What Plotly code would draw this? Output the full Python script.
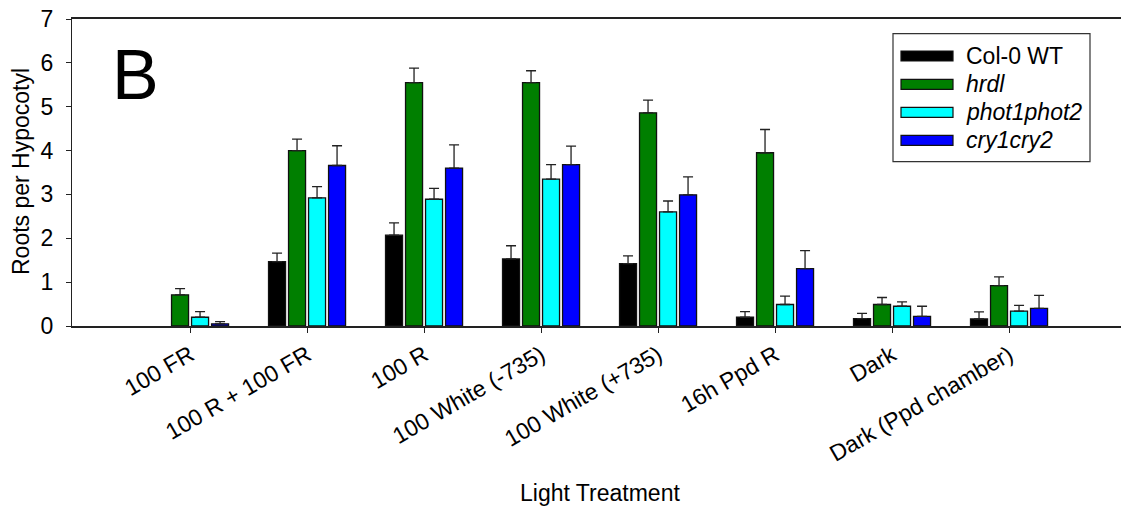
import plotly.graph_objects as go

categories = ["100 FR", "100 R + 100 FR", "100 R", "100 White (-735)",
              "100 White (+735)", "16h Ppd R", "Dark", "Dark (Ppd chamber)"]
series_names = ["Col-0 WT", "hrdl", "phot1phot2", "cry1cry2"]
series_italic = [False, True, True, True]
colors = ["#000000", "#007F00", "#00FFFF", "#0000FF"]

col0 = [None, 1.47, 2.07, 1.53, 1.42, 0.20, 0.17, 0.16]
hrdl = [0.71, 4.00, 5.55, 5.55, 4.86, 3.95, 0.49, 0.92]
phot = [0.20, 2.92, 2.89, 3.35, 2.60, 0.49, 0.45, 0.34]
cry = [0.05, 3.66, 3.60, 3.68, 2.99, 1.31, 0.22, 0.40]

col0_err = [None, 0.19, 0.28, 0.30, 0.18, 0.13, 0.12, 0.16]
hrdl_err = [0.14, 0.26, 0.33, 0.27, 0.29, 0.53, 0.16, 0.20]
phot_err = [0.13, 0.26, 0.25, 0.33, 0.25, 0.19, 0.10, 0.13]
cry_err = [0.05, 0.45, 0.53, 0.42, 0.41, 0.41, 0.23, 0.30]

values = [col0, hrdl, phot, cry]
errors = [col0_err, hrdl_err, phot_err, cry_err]

FONT = "Liberation Sans, Arial, sans-serif"
FS = 23
W, H = 1121, 512
L, R, T, B = 72, 0, 19, 186
PW, PH = W - L - R, H - T - B


def px(x):
    return (x - L) / PW


def py(y):
    return (H - B - y) / PH


fig = go.Figure()
for name, vals, errs, c in zip(series_names, values, errors, colors):
    fig.add_trace(go.Bar(
        x=categories, y=vals, name=name,
        marker=dict(color=c, line=dict(color="#111111", width=1.3)),
        error_y=dict(type="data", symmetric=False, array=errs,
                     arrayminus=[0] * len(errs), color="#222222",
                     thickness=1.3, width=5),
        showlegend=False,
    ))

# manual legend
lx0, ly0, lx1, ly1 = 893, 33.7, 1090, 161.7
fig.add_shape(type="rect", xref="paper", yref="paper",
              x0=px(lx0), x1=px(lx1), y0=py(ly1), y1=py(ly0),
              line=dict(color="#333333", width=1.2), fillcolor="white")
row_y = [56, 84.3, 112.3, 140.3]
for name, it, c, ry in zip(series_names, series_italic, colors, row_y):
    fig.add_shape(type="rect", xref="paper", yref="paper",
                  x0=px(901), x1=px(953), y0=py(ry + 5), y1=py(ry - 5),
                  line=dict(color="#111111", width=1.2), fillcolor=c)
    fig.add_annotation(xref="paper", yref="paper", x=px(964), y=py(ry),
                       xanchor="left", yanchor="middle", showarrow=False,
                       text=f"<i>{name}</i>" if it else name,
                       font=dict(family=FONT, size=FS, color="black"))

fig.add_annotation(xref="paper", yref="paper", x=px(135), y=py(75),
                   xanchor="center", yanchor="middle", showarrow=False,
                   text="B", font=dict(family=FONT, size=70, color="black"))
fig.add_annotation(xref="paper", yref="paper", x=px(600), y=py(493),
                   xanchor="center", yanchor="middle", showarrow=False,
                   text="Light Treatment", font=dict(family=FONT, size=FS, color="black"))
fig.add_annotation(xref="paper", yref="paper", x=px(21), y=py(172),
                   xanchor="center", yanchor="middle", showarrow=False, textangle=-90,
                   text="Roots per Hypocotyl", font=dict(family=FONT, size=FS, color="black"))

fig.update_layout(
    width=W, height=H,
    margin=dict(l=L, r=R, t=T, b=B, pad=0),
    paper_bgcolor="white", plot_bgcolor="white",
    barmode="group", bargap=0.316, bargroupgap=0.15,
    font=dict(family=FONT, size=FS, color="black"),
    xaxis=dict(type="category", range=[-1.009, 7.957], showgrid=False,
               showline=True, linecolor="#222222", linewidth=1.5, mirror=True,
               ticks="outside", ticklen=5, tickcolor="#222222", tickwidth=1,
               tickangle=-30, tickfont=dict(family=FONT, size=FS, color="black"),
               zeroline=False),
    yaxis=dict(range=[0, 7], dtick=1, showgrid=False, zeroline=False,
               showline=True, linecolor="#222222", linewidth=1.2,
               ticks="outside", ticklen=5, tickcolor="#222222",
               ticklabelstandoff=8,
               tickfont=dict(family=FONT, size=FS, color="black")),
)

fig.write_html("out.html")
